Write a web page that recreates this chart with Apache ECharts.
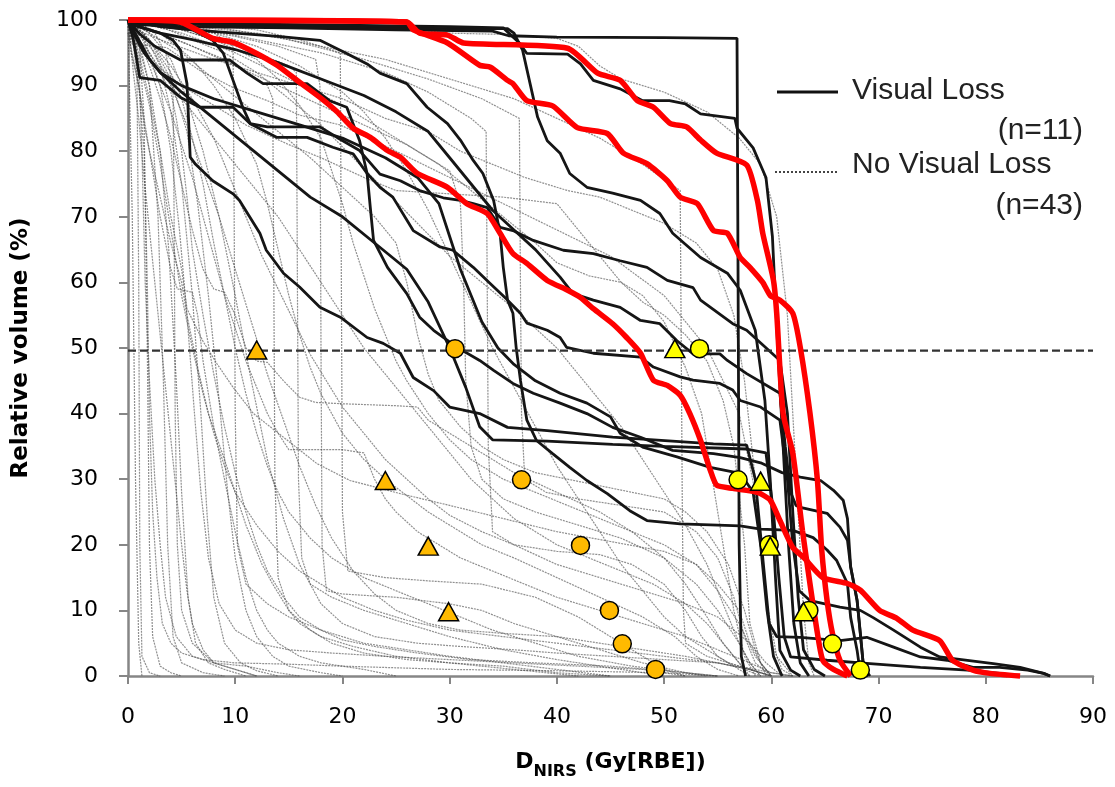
<!DOCTYPE html>
<html><head><meta charset="utf-8">
<script src="https://cdn.jsdelivr.net/npm/echarts@6/dist/echarts.min.js"></script>
<style>html,body{margin:0;padding:0;background:#fff}#c{width:1115px;height:787px}</style>
</head><body><div id="c"></div>
<script>
// ---- No Visual Loss (n=43) DVH curves : [dose, volume%] ----
const noLossCurves = [
 [[0,100],[0.4,70],[0.7,30],[1,5],[1.3,0]],
 [[0,100],[0.8,99],[1,60],[1.1,20],[1.3,3],[2,0.5],[3,0]],
 [[0,100],[1,98],[1.5,85],[1.8,50],[2,20],[2.3,6],[3,1.5],[4,0.5],[5,0]],
 [[0,100],[1,97],[2,90],[2.8,70],[3.3,45],[3.7,20],[4.2,6],[5,2],[7,0.5],[9,0]],
 [[0,99],[1,96],[2,90],[3,80],[3.8,65],[4.5,45],[5,28],[5.6,12],[6.3,5],[7.5,2],[9,1],[11,0]],
 [[0,100],[1.5,98],[3,93],[4,86],[5,75],[6,58],[6.8,40],[7.4,24],[8,12],[9,5],[10.5,2],[12,0.8],[14,0]],
 [[0,100],[2,97],[4,91],[5.5,83],[6.5,72],[7.5,58],[8.5,42],[9.3,28],[10,18],[11,10],[12,6],[13.5,3],[15,1.5],[18,0.5],[20,0]],
 [[0,100],[0.5,92],[1,85],[1.5,76],[2,68],[2.5,60],[3,52],[3.5,44],[4,36],[4.5,28],[5,20],[5.5,13],[6,8],[7,4],[8,2],[10,1],[12,0]],
 [[0,98],[1,90],[2,80],[3,70],[4,62],[4.6,59],[6,58.5],[6.5,55],[7,48],[8,38],[9,30],[10,22],[11,15],[12,10],[13,7],[14,5],[16,3],[18,2],[22,1],[25,0]],
 [[0,100],[0.3,95],[1,90],[1.5,84],[2,80],[3,73],[4,66],[5,60],[5.5,55],[6.5,47],[7.5,40],[9,33],[10,28],[11,23],[12.5,17],[13.5,14],[15,10],[17,7],[19,5],[22,3.5],[26,2.5],[30,2],[35,1.5],[40,0.5],[45,0]],
 [[0,100],[1,98],[2,95],[3,92],[4,89],[4.5,85],[5,80],[5.5,73],[6,65],[7,55],[8,46],[9,38],[10,31],[11,25],[12,20],[13,16],[14.5,12],[16,9],[18,7],[20,5.5],[23,4.5],[27,3.5],[32,2.5],[38,2],[45,1.5],[52,0.5],[55,0]],
 [[0,100],[0.5,97],[1,94],[1.3,80],[1.6,60],[2,45],[2.5,30],[3,20],[3.5,12],[4.5,6],[6,3],[8,2],[11,1.5],[14,0.5],[16,0]],
 [[0,100],[2.5,98],[3.5,95],[4.2,90],[4.3,70],[4.4,40],[4.6,20],[5,10],[6,5],[8,2],[10,1],[12,0]],
 [[0,100],[3,98],[6,96],[9,94],[11,92],[13,90],[13.5,88],[13.6,60],[13.7,30],[14,15],[15,10],[16,8],[18,6],[21,4.5],[25,3],[30,2],[36,1],[42,0]],
 [[0,100],[4,99],[8,97],[12,95],[15,93],[15.7,92],[15.8,60],[15.9,30],[16.2,18],[17,14],[19,12],[22,10],[26,8],[30,6],[35,4],[40,2.5],[46,1],[50,0]],
 [[0,100],[5,99],[10,97.5],[14,96],[17.5,94],[17.9,90],[18,50],[18.1,20],[18.5,13],[20,12.5],[25,12],[30,11],[33,10],[36,8],[40,6],[44,4],[48,2],[52,0.5],[54,0]],
 [[0,100],[6,99.5],[12,98.5],[16,97],[19.8,95],[19.9,60],[20,25],[20.5,16],[24,15],[28,14.5],[33,14],[38,12],[42,9],[45,6],[48,3],[50,1],[52,0]],
 [[0,100],[4,99],[8,98],[9.8,96],[9.9,70],[10,40],[10.2,20],[11,14],[13,11],[15,9],[18,7],[22,5],[26,4],[30,3],[35,2],[40,1],[45,0]],
 [[0,100],[1,97],[2,93],[3,88],[4,82],[5,75],[6,68],[7,62],[8,59],[9,58.5],[10,55],[11,50],[12,48],[13,47.8],[14.5,45],[16,42.5],[17.5,41.7],[20,41.5],[25,41.2],[27,41],[28,39],[30,37],[33,34],[36,31],[40,28],[44,25],[47,22],[50,18],[52,14],[54,9],[55.5,5],[57,2],[58,0]],
 [[0,100],[1,95],[2,88],[3,80],[4,70],[5,62],[5.5,56],[7,51],[8.3,47.6],[9.8,44],[11.7,40],[14.5,36.4],[17.6,32.4],[20.7,29.8],[25.4,27.8],[30,26],[35,24],[40,22],[45,20.5],[50,19],[53,17],[55,14],[57,10],[58,5],[59,2],[60,0]],
 [[0,99],[1,94],[2,87],[3,78],[4,68],[5,58],[6,50],[7,43],[8,37],[9,32],[10,28],[12,23],[14,19],[16,16],[18,14],[20,12],[23,10],[26,8.5],[30,7],[35,6],[40,5],[45,4],[50,3],[55,2],[58,1],[60,0]],
 [[0,100],[2,97],[4,92],[5,88],[6,82],[7,75],[8,66],[9,58],[10,50],[11,43],[12,37],[13,32],[14,28],[15,25],[17,21],[19,18],[22,15],[25,13],[28,11],[31,9],[34,7],[38,5],[42,3],[47,1.5],[52,0.5],[55,0]],
 [[0,100],[3,98],[6,94],[8,90],[10,85],[12,78],[13,72],[14,65],[15,58],[16,52],[17,47],[18,43],[19,40],[20,37],[22,33],[24,30],[26,27.5],[28,25],[30,23],[33,20],[36,18],[40,15],[44,12],[48,9],[51,6],[53,3],[55,1],[57,0]],
 [[0,100],[4,99],[8,97],[12,94],[14,91],[16,87],[18,82],[19,77],[20,72],[21,66],[22,61],[23,56],[24,52],[25,48],[26,45],[28,40],[30,36],[32,33],[35,30],[38,28],[41,26],[44,24],[47,22],[50,20],[53,17],[55,13],[57,8],[58.5,3],[60,0]],
 [[0,100],[2,98],[5,95],[8,91],[11,87],[14,83],[17,79],[19,76],[21,73],[23,70],[25,66],[26,60],[27,52],[28,46],[29,42],[31,38],[33,35],[35,33],[38,31],[41,30],[44,29],[47,28],[50,27],[52,25],[54,22],[56,17],[57.5,10],[58.5,4],[59.5,0]],
 [[0,100],[5,98],[10,95],[15,91],[20,87],[24,83],[27,80],[30,77],[31,72],[31.3,60],[31.5,45],[32,35],[33,30],[35,27],[38,25],[42,23],[46,21],[50,18],[53,14],[55,10],[57,5],[58,2],[59,0]],
 [[0,100],[6,99],[12,97],[18,95],[24,92],[28,89],[32,85],[33.4,83],[33.5,60],[33.6,35],[34,22],[36,20],[40,19],[44,18.5],[47,17],[50,14],[52,10],[53.5,6],[55,3],[57,1],[58,0]],
 [[0,100],[8,99],[15,97],[22,94],[28,91],[33,88],[36.5,85],[36.6,60],[36.7,40],[37,30],[39,28],[42,27],[46,26],[50,25],[53,22],[55,18],[56.5,12],[57.5,6],[58.5,2],[60,0]],
 [[0,99],[2,95],[4,90],[6,86],[8,82],[10,78],[12,74],[14,70],[16,65],[18,60],[20,55],[22,50],[24,46],[26,42],[28,38],[30,34],[32,30],[34,27],[36,24],[38,22],[40,20],[43,18],[46,16],[49,14],[52,11],[54,8],[56,4],[57.5,1],[59,0]],
 [[0,100],[1,97],[2,94],[3,90],[4,86],[5,81],[6,76],[7,70],[8,64],[9,58],[10,53],[11,48],[12,44],[13,40],[14,37],[15,34.5],[16,34.5],[20,34.5],[22,34],[23,30],[24,27],[25,25],[27,22],[29,20],[31,18],[34,16],[37,14],[40,12],[44,10],[48,8],[52,6],[55,4],[58,2],[60,0.5],[62,0]],
 [[0,100],[2,97],[4,93],[6,88],[8,82],[9.5,76],[11,70],[12.5,64],[14,59],[15.5,54],[17,49],[18.5,45],[20,41],[22,37],[24,33],[26,30],[28,27],[30,24.5],[33,22],[36,20],[40,17],[44,15],[48,13],[52,11],[55,9],[58,5],[59.5,2],[61,0]],
 [[0,100],[3,99],[6,97],[9,95],[12,92],[15,88],[18,84],[21,79],[24,74],[27,69],[30,64],[33,60],[36,56],[38,53],[40,50],[42,46],[44,42],[46,38],[48,33],[50,28],[52,23],[54,17],[55.5,11],[57,5],[58,2],[59,0]],
 [[0,100],[3,98],[6,96],[10,93],[14,90],[18,87],[22,84],[26,81],[29,78],[32,74],[35,70],[38,66],[40,63],[43,61],[46,60],[48,58],[50,54],[52,47],[53.5,40],[54.5,30],[55.5,20],[56.5,10],[57.5,3],[58.5,0]],
 [[0,100],[0.5,96],[1,90],[1.5,80],[1.8,60],[2,40],[2.3,25],[2.7,15],[3.2,8],[4,5],[5,3.5],[7,2.5],[10,2],[15,1.8],[20,1.5],[30,1],[40,0.8],[50,0.5],[55,0]],
 [[0,100],[1.5,97],[3,90],[4,80],[4.8,68],[5.5,55],[6.2,40],[6.8,28],[7.5,18],[8.5,11],[10,7],[12,5],[15,4],[19,3.5],[24,3],[30,2.5],[36,2],[42,1.5],[48,1],[52,0]],
 [[0,100],[2,98],[4,94],[5.5,88],[7,80],[8.5,70],[10,58],[11.5,45],[13,33],[14.5,24],[16,17],[18,11],[20,8],[23,6],[27,5],[31,4.5],[36,4],[40,3.5],[45,3],[50,2.5],[55,2],[58,1],[60,0]],
 [[0,100],[1,98],[2.5,95],[4,90],[5.5,84],[7,77],[8.5,70],[10,62],[11.5,54],[13,46],[14.5,39],[16,32],[17.5,26],[19,21],[21,16],[23,12.5],[25,10],[28,8],[31,7],[35,6.5],[40,6],[44,5],[48,4],[52,3],[55,2],[58,1],[60,0]],
 [[0,100],[4,99],[8,98],[12,96],[16,93],[20,89],[22,86],[24,82],[26,77],[28,71],[30,64],[32,57],[34,50],[36,44],[38,38],[40,32],[42,27],[44,22],[46,17],[48,13],[50,9],[52,6],[54,4],[56,2],[58,1],[60,0]],
 [[0,100],[6,99],[12,98],[18,96],[24,94],[30,91],[36,88],[40,85],[44,82],[48,78],[51.5,74],[51.6,50],[51.7,25],[51.8,10],[52,5],[54,3],[57,1.5],[60,0.5],[62,0]],
 [[0,100],[10,99.5],[24,99],[30,98],[35,97.8],[40,97.2],[42,96],[44,93],[46,91],[50,89],[54,86],[57,82],[59,78],[60.5,70],[61.5,55],[62,40],[62.5,25],[63,10],[63.5,2],[64,0]],
 [[0,99],[3,97],[8,94],[12,92],[16,90],[20,88],[24,85],[28,83],[31,80],[34,78],[37,76],[41,74],[44,73],[47,71],[50,69],[53,66],[55,62],[56.5,55],[57.5,45],[58.5,30],[59.3,15],[60,5],[61,1],[62,0]],
 [[0,100],[0.3,96.4],[3.6,95.8],[6.7,92.3],[9.8,89.7],[13,87.7],[16,85.5],[19.8,84],[25,80],[30,76],[35,72],[40,68],[45,64],[50,58],[54,50],[57,40],[58.5,28],[59.5,12],[60.5,3],[62,0]],
 [[0,98],[2,94],[5,90],[8,87],[11,84],[15,81],[18,79],[22,76],[25,74],[30,73.5],[35,73],[40,72],[42,68],[44,64],[46,60],[48,57],[50,55],[52,52],[54,48],[55.5,42],[56.5,35],[57.5,20],[58,8],[59,2],[60,0]]
];

// ---- Visual Loss (n=11) DVH curves ----
const lossCurves = [
 [[0,100],[1,99.3],[5,99],[15,98.8],[25,98.5],[34,98.3],[35.5,97.6],[40,97.4],[50,97.3],[56.8,97.2],[56.9,60],[57,20],[57.2,3],[57.6,0]],
 [[0,100],[2,99.5],[10,99.2],[20,98.9],[30,98.7],[35.4,98.7],[36,98],[36.8,95.4],[37.5,90.3],[38.2,85.2],[39.1,81.6],[40.3,79.7],[41.2,76.6],[42.8,74.5],[45.2,73.6],[47.8,72.5],[49.6,70.5],[50.8,67.5],[53.4,63.8],[55.9,61.4],[57.1,58.8],[58.5,52.7],[59.4,42],[59.9,29.8],[60.4,14.6],[60.8,3.9],[61.8,0.9],[62.7,0]],
 [[0,100],[1,99.6],[10,99.4],[20,99.2],[30,99],[35,98.8],[36.5,96.5],[37.2,94.9],[41,94.8],[42.2,93.3],[43.4,90.8],[45.9,89.5],[48,87.7],[50.5,87.7],[52,87.2],[53.4,85.7],[56.6,85],[56.8,83.5],[58.3,80.5],[59.5,76],[60.1,67],[60.6,50],[61.1,35],[61.6,20],[62.1,8],[62.7,2],[63.5,0]],
 [[0,100],[0.5,99.2],[3,98],[4.2,96.9],[4.9,95.4],[5.5,90.3],[5.8,79.1],[6.3,78],[7.9,75.5],[9.8,73.5],[10.4,72.5],[12.3,67.5],[12.9,64.9],[14.5,61.4],[16,59.3],[17.9,56.2],[19.8,54.7],[22.3,51.6],[23.8,50.7],[25.4,49.2],[26.6,45.5],[28.5,43.5],[30,41],[32.8,40],[35.4,37.9],[39.1,37.4],[45.2,36.4],[54.6,35.4],[57.7,35.2],[58.5,30],[59.2,18],[59.8,8],[60.5,6],[62.7,5.9],[66.4,5.4],[68.9,5.9],[71.4,4.4],[73.9,2.9],[76.4,2.4],[78.8,1.3],[81.3,1.3],[83.9,0.9],[85.4,0.4],[86,0]],
 [[0,100],[2,99.3],[6,98.5],[10,98],[14,97.5],[17.9,96.9],[20.4,94.9],[22.3,93.3],[23.5,91.9],[26,90.3],[27.9,86.7],[29.8,84.2],[31,81.7],[32.2,78.6],[33.1,76.6],[34.1,72.5],[34.7,67.5],[35,62.3],[35.4,57.3],[35.9,55.3],[36.2,50.1],[36.6,45.1],[37.2,39],[38.1,35.9],[39.6,33.9],[41.2,31.8],[42.8,29.8],[44.7,27.8],[46.8,25.2],[48.4,23.7],[51.5,23.2],[57.1,22.9],[59,22.4],[62,22.2],[63.9,21.1],[65.2,19.2],[66.1,17.6],[67.1,14.1],[67.4,8.9],[68,3.9],[68.3,0.4],[69,0]],
 [[0,100],[0.5,97],[1.1,91.2],[3,90.8],[4.9,88.2],[6.7,86.7],[9.8,86.7],[11.4,84.2],[13,83.7],[17.9,83.7],[19.5,82.1],[21.6,80.1],[23.5,76.5],[25.4,75.5],[27.2,74],[29.4,72.9],[31,72.5],[32.2,72],[33.5,71.4],[34.7,68.4],[35.9,67.9],[37.8,66.4],[40.6,64.9],[43.4,64.4],[45.9,63.3],[48.4,62.3],[50.3,60.3],[52.7,59.2],[53.4,57.3],[56.4,53.7],[57.7,52.7],[60.8,48.1],[61.5,40],[62,25],[62.5,12],[63,4],[64,1],[65,0]],
 [[0,100],[3,99],[6,98.5],[7.9,96.9],[8.9,94.9],[9.8,90.8],[10.7,86.7],[11.4,84.2],[13.9,82.1],[16.7,82.1],[19.1,80.6],[21,79.6],[22.3,76.6],[23.5,74.5],[24.7,73],[26.6,67.9],[29.1,65.4],[30.3,64.9],[32.2,62.3],[33.8,59.8],[35.4,57.3],[36.6,55.3],[37.2,53.8],[39.1,52.7],[40.3,51.6],[40.9,50.1],[43.4,49.2],[47.8,48.6],[49,47.1],[51.5,45.6],[52.7,45.1],[55.2,44.6],[56.4,43.6],[57.1,42],[59,41],[60.8,39],[61.5,30],[62,20],[62.6,13],[63.6,11.5],[66.4,10.5],[68.3,10],[69.5,8.9],[71.4,7],[73.9,4.4],[75.7,2.9],[80.7,1.9],[83.2,1.3],[85.4,0.4],[86,0]],
 [[0,100],[1,98],[2.5,96],[4.9,93.9],[9.5,93.9],[11.1,91.9],[12.6,90.3],[16.7,90.3],[18.8,87.7],[20.4,86.7],[21.6,81.6],[22.3,76.6],[22.6,71.4],[22.9,66.4],[24.2,62.3],[26,58.3],[27.2,54.7],[28.5,52.7],[30.7,50.1],[32.8,48.1],[34.1,46.6],[35.9,44.6],[37.8,43.1],[40.3,41.6],[42.8,40],[45.2,37.9],[47.8,36.4],[50.8,34.4],[54.6,33.9],[57.1,33.3],[59,32.5],[61,31],[62.7,30.3],[64.6,29.8],[65.8,28.3],[66.7,26.8],[67.1,24],[67.4,16.6],[68,11.5],[68.3,6.5],[68.6,1.3],[69,0]],
 [[0,100],[1,99],[3,98],[6,97],[10,95.5],[14,93.5],[18,91],[22,88.5],[25,86],[28,83],[30,79],[32,75],[34,71],[36,68],[38,65],[40.3,60.8],[41.5,58.3],[43.4,57.3],[45.9,56.2],[47.8,54.2],[49.6,53.7],[51.2,51.1],[52.7,49.1],[55.2,49.1],[55.9,48.1],[57.7,46.1],[60.8,43.1],[61.3,35],[61.8,28],[62.3,26],[62.7,25.7],[65.2,24.8],[66.4,22.7],[67.1,20.7],[67.4,16.6],[68,11.5],[68.3,6.5],[68.6,1.3],[69.2,0]],
 [[0,100],[0.5,98],[1.5,95],[3,92],[5,89],[8,85],[11,81],[14,77],[17,73],[20,70],[23,66],[26,62],[28,57],[30,50],[31.5,44],[32.8,38],[34,36],[39.1,35.8],[45.2,35.3],[50,35],[57.7,34.6],[59.5,34],[60.2,25],[60.7,15],[61.2,6],[61.8,2.9],[65.2,2.4],[69.2,1.9],[73.9,1.3],[78.3,0.9],[81.3,0.4],[82,0]],
 [[0,100],[1,97],[2,94],[3,92],[5,90],[8,88],[12,86],[16,84],[20,82],[24,79],[27,76],[29,72],[30,67],[31,62],[32,58],[33,54],[34.5,50],[36,47.5],[38,45],[40.3,43.1],[42.8,41.6],[45,39.5],[45.9,37],[48,34.9],[51.2,33.4],[54.3,31.8],[57.1,30.9],[58.3,28],[59,20],[59.6,10],[60.2,3],[61,0]]
];

// ---- Highlighted (red) curves ----
const redCurves = [
 [[0,100],[4.85,99.7],[7.9,97.2],[9.8,96.6],[12,94.9],[13.9,93.1],[16,90.5],[17.9,88.2],[19.5,86],[21,83.5],[22.6,82.1],[24.2,80.1],[25.4,79.1],[27,76.6],[29.8,74.5],[31.6,72],[33.5,70.5],[34.7,67.5],[35.9,64.4],[37.2,62.9],[39.1,60.3],[41,58.8],[42.2,57.7],[43.4,56],[45.2,53.7],[46.5,51.6],[47.8,49.2],[49,45.1],[50.3,44.3],[51.5,42.8],[52.4,40],[53.4,35.9],[54.3,31.4],[54.9,29.1],[56.4,28.6],[58.7,28],[59.9,26.8],[60.8,23.7],[62,19.6],[63,18.1],[64.8,15],[67.1,14.1],[68.3,13.1],[70.1,10],[71.7,8.8],[73.2,7],[75.7,5.4],[76.9,2.4],[78.8,0.9],[80.4,0.4],[83.2,0]],
 [[0,100],[26,99.7],[27.2,98],[29.8,97.7],[31.3,96.5],[41,95.7],[43.8,91.9],[45.9,90.8],[47.5,87.7],[49,86.7],[50.6,84.2],[52.1,83.7],[53.4,81.7],[54.9,79.7],[57.7,77.9],[58.7,72.5],[59.2,67.5],[60.2,60.3],[60.5,55.3],[61.1,40],[62,34],[62.9,22.2],[63.6,14.1],[64.3,6.5],[64.8,2.4],[65.8,1],[67.1,0]],
 [[0,100],[26,99.7],[26.6,98.5],[29.8,96.5],[32.8,93.1],[33.8,92.8],[35.4,90.8],[35.9,90.3],[37.2,87.7],[39.6,86.9],[41.9,83.6],[44.7,82.7],[46.2,79.7],[48.4,78.1],[50.3,75.5],[51.5,73],[53.1,72],[54.6,67.9],[55.9,67.5],[57.1,63.8],[58,62.3],[59.2,60],[59.9,58],[60.8,57.3],[62,55.3],[62.7,50.1],[63.6,40.1],[64.3,29.8],[64.7,19.2],[65.2,11.5],[65.7,6.5],[66.4,2.4],[67.4,0]]
];

const thresholdLine = [[0,49.6],[90,49.6]];
const orangeTriangles = [[12,49.7],[24,29.8],[28,19.8],[29.9,9.8]];
const orangeCircles = [[30.5,49.9],[36.7,29.9],[42.2,19.9],[44.9,10],[46.1,4.9],[49.2,1]];
const yellowCircles = [[53.3,49.9],[56.9,29.9],[59.8,20],[63.5,10],[65.7,4.9],[68.3,0.9]];
const yellowTriangles = [[51,49.9],[59,29.7],[59.9,19.8],[63,9.8]];

const series = [];
noLossCurves.forEach(d => series.push({
  type:'line', data:d, showSymbol:false, silent:true, z:1, clip:false,
  lineStyle:{color:'rgba(70,70,70,0.6)', width:1.2, type:[2,1]}
}));
lossCurves.forEach(d => series.push({
  type:'line', data:d, showSymbol:false, silent:true, z:2, clip:false,
  lineStyle:{color:'#151515', width:2.8}
}));
series.push({type:'line', data:thresholdLine, showSymbol:false, silent:true, z:3, clip:false,
  lineStyle:{color:'#333', width:2.2, type:[8,4]}});
redCurves.forEach(d => series.push({
  type:'line', data:d, showSymbol:false, silent:true, z:4, clip:false, smooth:0.2,
  lineStyle:{color:'#ff0000', width:5.5}
}));
const mk = (data, symbol, size, color) => ({
  type:'scatter', data, symbol, symbolSize:size, z:6, silent:true,
  itemStyle:{color, borderColor:'#000', borderWidth:1.5, opacity:1}
});
series.push(mk(orangeCircles,'circle',18,'#FFBA00'));
series.push(mk(orangeTriangles,'triangle',[20,18],'#FFBA00'));
series.push(mk(yellowCircles,'circle',18,'#FFFF00'));
series.push(mk(yellowTriangles,'triangle',[20,18],'#FFFF00'));

const chart = echarts.init(document.getElementById('c'));
chart.setOption({
  animation:false,
  backgroundColor:'#fff',
  grid:{left:128, right:22, top:20, bottom:111, containLabel:false},
  xAxis:{
    type:'value', min:0, max:90, interval:10,
    axisLine:{show:true, lineStyle:{color:'#868686', width:2.5}},
    axisTick:{show:true, length:8, lineStyle:{color:'#868686', width:2}},
    splitLine:{show:false},
    axisLabel:{color:'#000', fontSize:22, fontFamily:'DejaVu Sans', margin:30},
    name:'{b|D}{s|NIRS}{b| (Gy[RBE])}', nameLocation:'middle', nameGap:75,
    nameTextStyle:{rich:{
      b:{fontSize:22, fontWeight:'bold', fontFamily:'DejaVu Sans', color:'#000', lineHeight:24, verticalAlign:'top'},
      s:{fontSize:16, fontWeight:'bold', fontFamily:'DejaVu Sans', color:'#000', lineHeight:16, padding:[13,0,0,0], verticalAlign:'top'}
    }}
  },
  yAxis:{
    type:'value', min:0, max:100, interval:10,
    axisLine:{show:true, lineStyle:{color:'#868686', width:2.5}},
    axisTick:{show:true, length:9, lineStyle:{color:'#868686', width:2}},
    splitLine:{show:false},
    axisLabel:{color:'#000', fontSize:22, fontFamily:'DejaVu Sans', margin:30},
    name:'Relative volume (%)', nameLocation:'middle', nameGap:95, nameRotate:90,
    nameTextStyle:{fontSize:23, fontWeight:'bold', fontFamily:'DejaVu Sans', color:'#000'}
  },
  graphic:[
    {type:'line', shape:{x1:777,y1:92,x2:838,y2:92}, style:{stroke:'#111', lineWidth:3}, z:10},
    {type:'line', shape:{x1:775,y1:172,x2:838,y2:172}, style:{stroke:'#444', lineWidth:2, lineDash:[2,2]}, z:10},
    {type:'text', x:852, y:91, style:{text:'Visual Loss', font:'30px "Liberation Sans"', fill:'#222', textVerticalAlign:'middle'}, z:10},
    {type:'text', x:1083, y:131, style:{text:'(n=11)', font:'30px "Liberation Sans"', fill:'#222', textAlign:'right', textVerticalAlign:'middle'}, z:10},
    {type:'text', x:852, y:165, style:{text:'No Visual Loss', font:'30px "Liberation Sans"', fill:'#222', textVerticalAlign:'middle'}, z:10},
    {type:'text', x:1083, y:206, style:{text:'(n=43)', font:'30px "Liberation Sans"', fill:'#222', textAlign:'right', textVerticalAlign:'middle'}, z:10}
  ],
  series
});
</script></body></html>
